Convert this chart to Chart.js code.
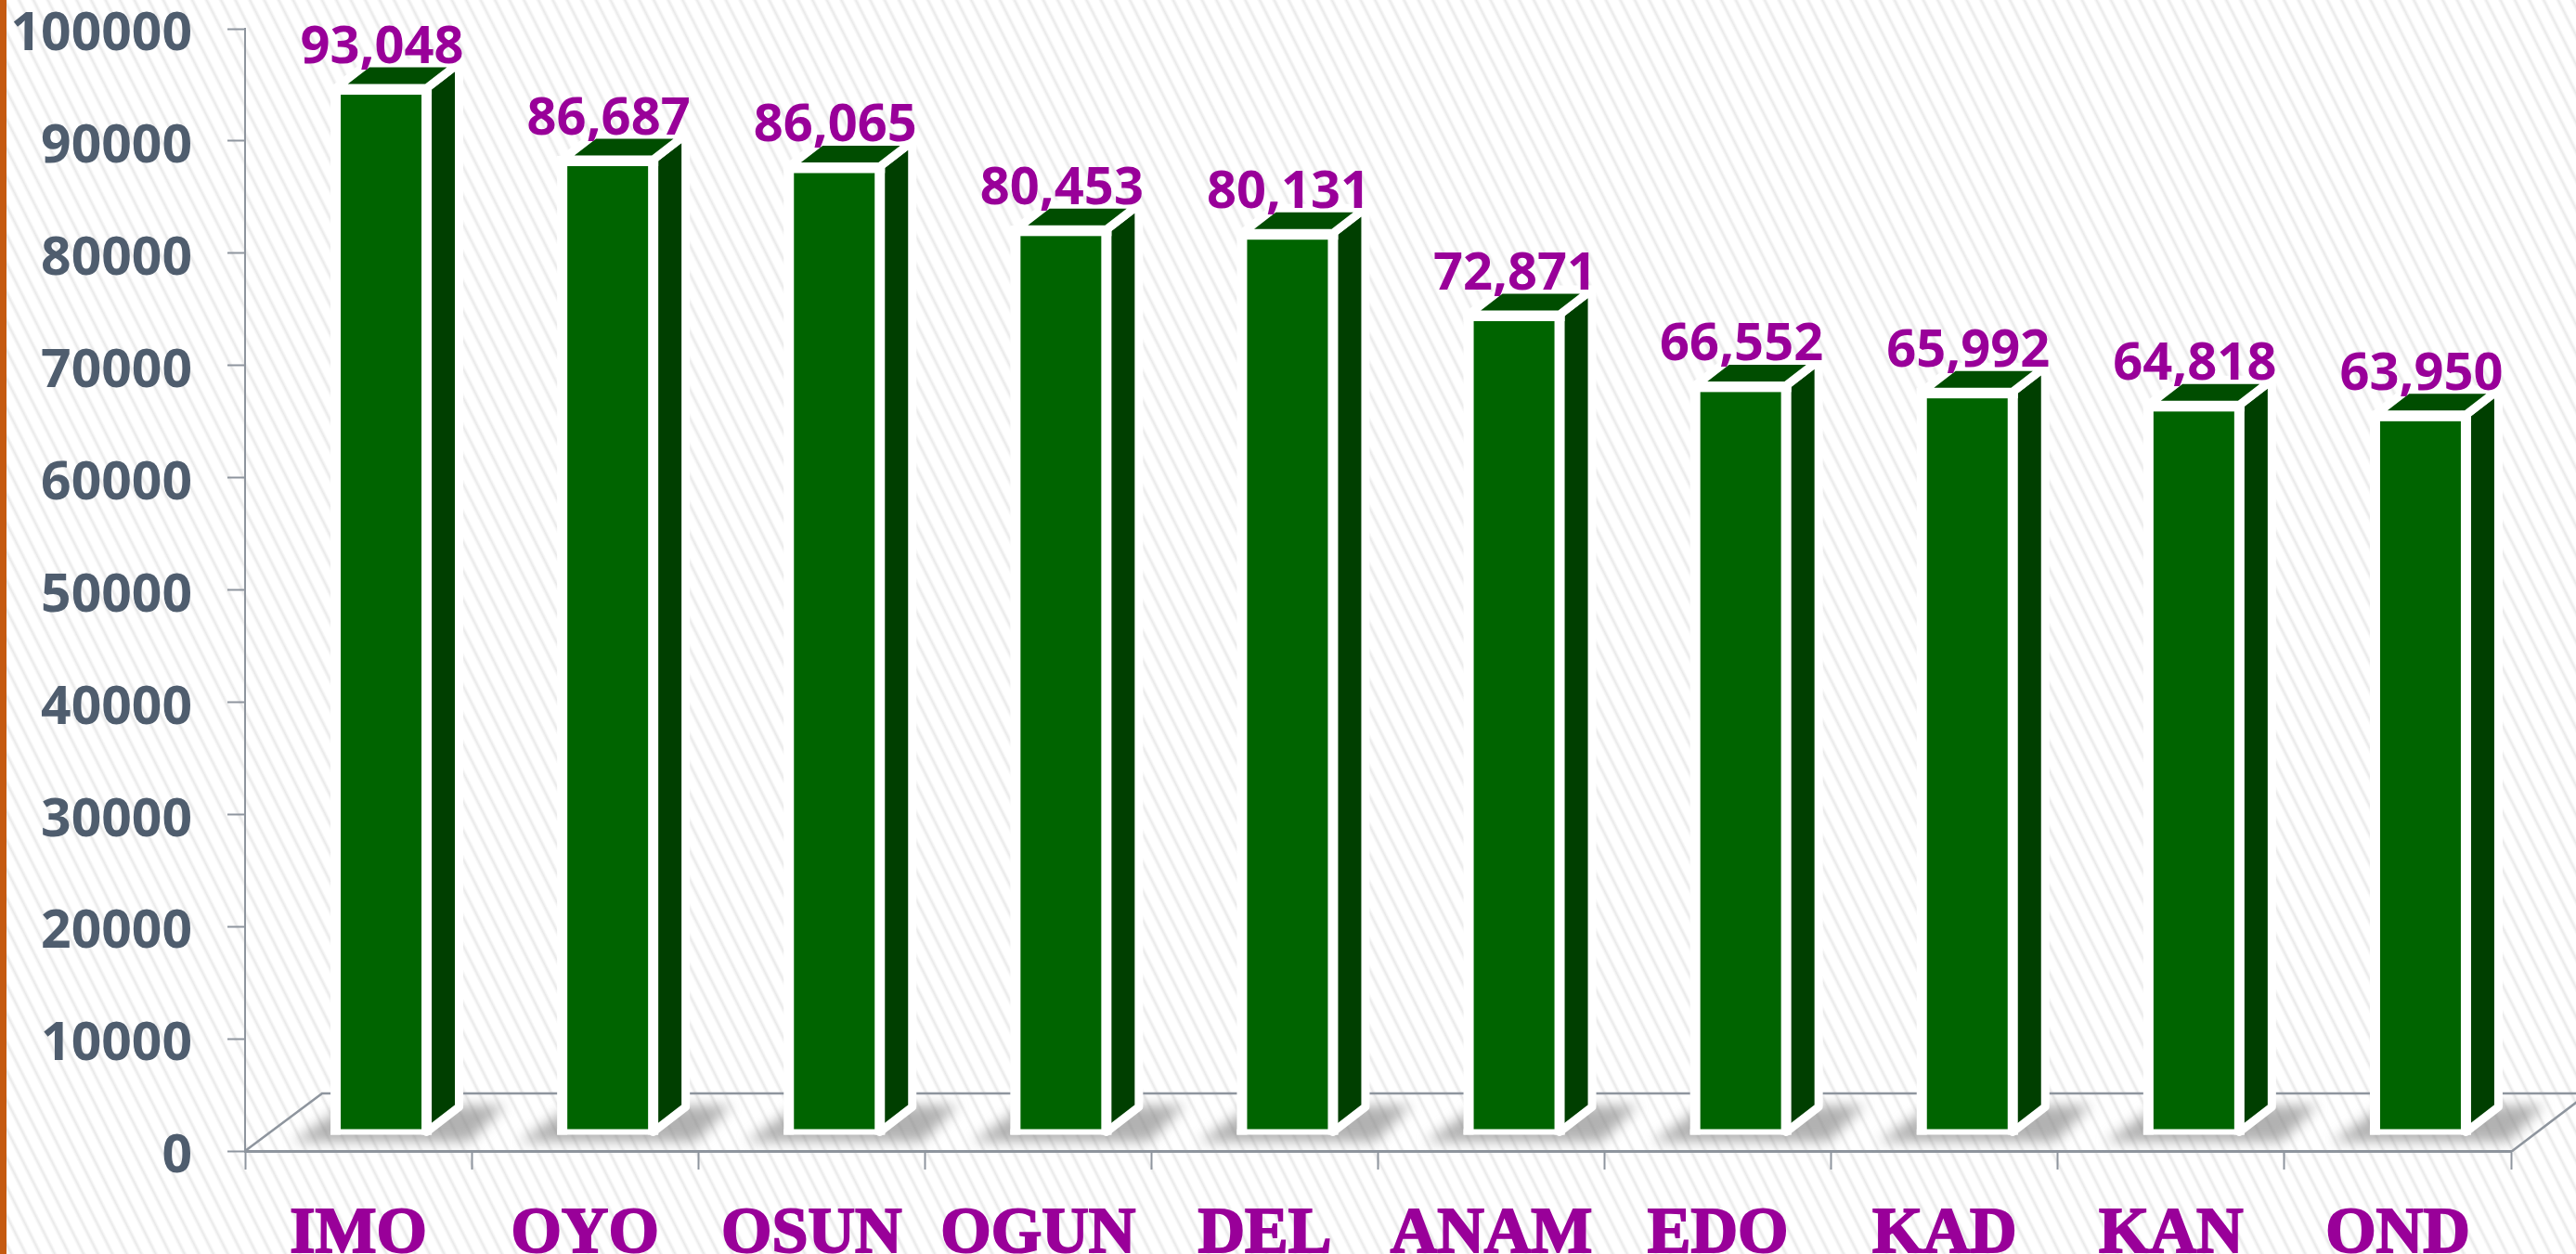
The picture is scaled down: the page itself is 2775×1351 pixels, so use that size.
<!DOCTYPE html>
<html>
<head>
<meta charset="utf-8">
<style>
html,body{margin:0;padding:0;width:2775px;height:1351px;overflow:hidden;background-color:#fff;
background-image:linear-gradient(90deg,#C55A11 0,#C55A11 7px,transparent 7px),repeating-linear-gradient(63.43deg,#fff 0,#fff 8px,#f5f5f5 9.5px,#e9e9e9 11px,#f5f5f5 12.5px,#fff 13.9px);}
canvas{display:block}
</style>
<script src="https://cdn.jsdelivr.net/npm/chart.js@4/dist/chart.umd.min.js"></script>
</head>
<body>
<canvas id="c" width="2775" height="1351"></canvas>
<script>
const categories = ["IMO","OYO","OSUN","OGUN","DEL","ANAM","EDO","KAD","KAN","OND"];
const values = [93048,86687,86065,80453,80131,72871,66552,65992,64818,63950];
const yTicks = {min:0,max:100000,step:10000};

const AXIS = '#8E959E', PURPLE = '#990099', SLATE = '#4F5D6E';
const shift = {x:24.5, y:-20};      // bar front plane relative to axis plane
const depth = {x:35, y:-27};        // bar depth
const floor = {x:83, y:-62};        // floor depth

const bar3d = {
  id:'bar3d',
  beforeDatasetsDraw(chart){
    const {ctx,scales:{x,y}} = chart;
    const y0 = y.getPixelForValue(0), l = x.left, r = x.right;
    ctx.save();
    // floor outline
    ctx.strokeStyle = AXIS; ctx.lineWidth = 2.5;
    ctx.beginPath();
    ctx.moveTo(l,y0);
    ctx.lineTo(l+floor.x,y0+floor.y);
    ctx.lineTo(r+floor.x,y0+floor.y);
    ctx.lineTo(r,y0+1);
    ctx.stroke();
    // soft floor shadows
    ctx.filter = 'blur(7px)';
    ctx.fillStyle = 'rgba(130,130,130,0.62)';
    chart.getDatasetMeta(0).data.forEach(b=>{
      const cx = b.x + shift.x, w = b.width/2;
      const by = y0 - 10, ty = y0 - 49;
      ctx.beginPath();
      ctx.moveTo(cx-w-46,by);
      ctx.lineTo(cx+w+46,by);
      ctx.lineTo(cx+w+84,ty);
      ctx.lineTo(cx-w+10,ty);
      ctx.closePath();
      ctx.fill();
    });
    ctx.filter = 'none';
    ctx.restore();
  },
  beforeDatasetDraw(chart){
    chart.ctx.save();
    chart.ctx.translate(shift.x,shift.y);
  },
  afterDatasetDraw(chart){
    const ctx = chart.ctx;
    chart.getDatasetMeta(0).data.forEach(b=>{
      const L = b.x-b.width/2, R = b.x+b.width/2, T = b.y, B = b.base;
      ctx.lineJoin = 'round';
      // right side
      ctx.beginPath();
      ctx.moveTo(R,T); ctx.lineTo(R+depth.x,T+depth.y); ctx.lineTo(R+depth.x,B+depth.y); ctx.lineTo(R,B); ctx.closePath();
      ctx.fillStyle = '#003F00'; ctx.fill();
      ctx.strokeStyle = '#fff'; ctx.lineWidth = 9; ctx.stroke();
      // top
      ctx.beginPath();
      ctx.moveTo(L,T); ctx.lineTo(L+depth.x,T+depth.y); ctx.lineTo(R+depth.x,T+depth.y); ctx.lineTo(R,T); ctx.closePath();
      ctx.fillStyle = '#004D00'; ctx.fill();
      ctx.stroke();
      // front frame
      ctx.fillStyle = '#fff';
      ctx.fillRect(L-5.5,T-4,b.width+11,11);
      ctx.fillRect(L-5.5,T-4,11,B-T+7);
      ctx.fillRect(R-5.5,T-4,11,B-T+7);
      ctx.fillRect(L-5.5,B-3,b.width+11,6);
    });
    ctx.restore();
  },
  afterDatasetsDraw(chart){
    const ctx = chart.ctx;
    ctx.save();
    ctx.font = 'bold 56px "Noto Sans"';
    ctx.fillStyle = PURPLE;
    ctx.textAlign = 'center';
    ctx.textBaseline = 'alphabetic';
    chart.getDatasetMeta(0).data.forEach((b,i)=>{
      ctx.fillText(values[i].toLocaleString('en-US'), b.x+shift.x+1, b.y+shift.y-27);
    });
    ctx.restore();
  }
};

new Chart(document.getElementById('c'),{
  type:'bar',
  data:{labels:categories,datasets:[{data:values,backgroundColor:'#006400',borderWidth:0,barThickness:98}]},
  options:{
    responsive:false,animation:false,
    layout:{padding:{left:0,right:70,top:31,bottom:0}},
    plugins:{legend:{display:false},tooltip:{enabled:false}},
    scales:{
      x:{
        afterFit(s){s.height=111;s.paddingLeft=0;s.paddingRight=0;},
        border:{display:true,color:AXIS,width:3},
        grid:{display:true,drawOnChartArea:false,drawTicks:true,tickLength:20,tickWidth:2,tickColor:AXIS,color:AXIS},
        ticks:{color:PURPLE,font:{family:'"Liberation Serif"',weight:'bold',size:70},textStrokeColor:PURPLE,textStrokeWidth:2,padding:29,maxRotation:0,autoSkip:false}
      },
      y:{
        min:yTicks.min,max:yTicks.max,
        afterFit(s){s.width=264;s.paddingTop=0;s.paddingBottom=0;},
        border:{display:true,color:AXIS,width:2},
        grid:{display:true,drawOnChartArea:false,drawTicks:true,tickLength:19,tickWidth:2,tickColor:AXIS,color:AXIS},
        ticks:{stepSize:yTicks.step,color:SLATE,font:{family:'"Open Sans"',weight:'bold',size:57},padding:38,labelOffset:7,callback:v=>String(v)}
      }
    }
  },
  plugins:[bar3d]
});
</script>
</body>
</html>
